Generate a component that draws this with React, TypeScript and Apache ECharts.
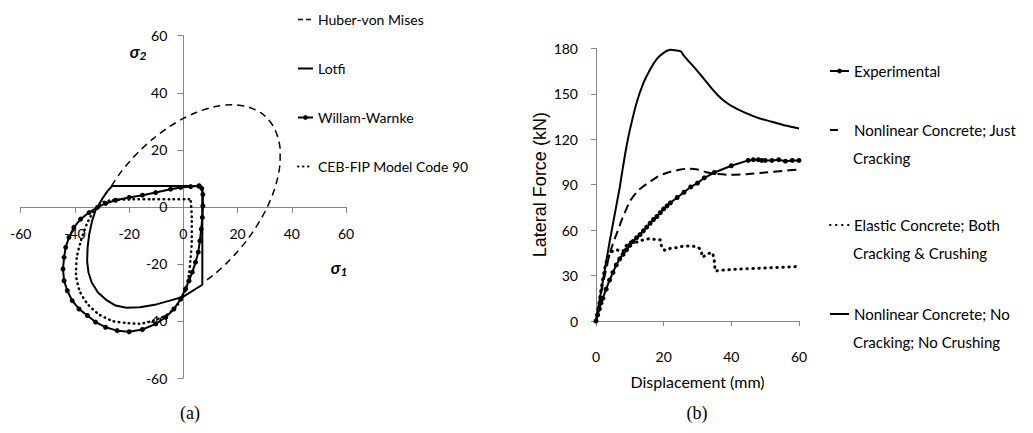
import React, { useEffect, useRef } from "react";
import * as echarts from "echarts";

// ---------- Panel (a): biaxial failure envelopes ----------
const stressTicks = [-60, -40, -20, 0, 20, 40, 60];

const huberVonMises: [number, number][] = [
  [-26.5, 7.3], [-23.2, 12], [-19.7, 16], [-15.7, 20], [-11, 24], [-5.3, 28], [0, 31],
  [4.5, 33], [11, 35], [17.9, 35.8], [24, 35], [28.5, 33], [31, 31], [33.3, 28], [35, 24],
  [35.7, 20], [35.7, 16], [35.2, 12], [34.2, 8], [32.8, 4], [31, 0], [28.8, -4], [26.2, -8],
  [23.2, -12], [19.7, -16], [15.7, -20], [11, -24], [7, -26.8],
];

const lotfi: [number, number][] = [
  [-26.3, 7.3], [6, 7.3], [7, 6.5], [7, -27.3], [0, -31.5], [-4, -32.6], [-10, -34.2],
  [-16, -35.2], [-21, -35.4], [-25, -34.6], [-28.5, -32.6], [-31.5, -30], [-33.8, -26.5],
  [-35, -23], [-35.5, -19], [-35.3, -14], [-34.7, -9.5], [-33.7, -5], [-32.3, -1],
  [-30, 2.7], [-28, 5.5], [-26.3, 7.3],
];

const willamWarnke: [number, number][] = [
  [5.8, 7.3], [2.7, 7.1], [-1, 6.8], [-4.7, 6.2], [-10.2, 5], [-15.1, 4.1], [-20, 3.3],
  [-25, 2.3], [-28.7, 1.2], [-31.7, -0.2], [-34.8, -2], [-37.9, -4.3], [-40.4, -7.2],
  [-42.2, -10.7], [-43.4, -14.2], [-44, -17.7], [-44.4, -21.8], [-44, -25.9], [-42.8, -29.4],
  [-41, -32.9], [-38.5, -35.8], [-35.4, -38.1], [-32.4, -40.4], [-28.7, -42.2], [-24.4, -43.4],
  [-20, -43.8], [-15.1, -43], [-10.2, -41], [-6.5, -38.7], [-3.5, -35.8], [-1, -32.3],
  [0.8, -28.8], [2.1, -25.9], [3.3, -22.9], [4.5, -19.4], [5.5, -15.9], [6.1, -11.9],
  [6.6, -7.8], [7, -3.7], [7.2, 0.3], [7.2, 4.4], [6.8, 6.5], [5.8, 7.3],
];

const cebFip: [number, number][] = [
  [2.1, 2.7], [-5, 2.7], [-12, 2.7], [-20, 2.6], [-26, 2.4], [-29.9, 1.5], [-33, -1.4],
  [-35.6, -6], [-37.8, -11.9], [-39.3, -17.7], [-39.6, -23.5], [-38.3, -29.4], [-35.4, -34],
  [-31.3, -37.6], [-26.2, -40], [-21.3, -40.7], [-16.4, -41], [-11.4, -40], [-6.5, -38.1],
  [-2.8, -35.2], [-0.4, -31.7], [1.1, -28.2], [2.1, -23.5], [2.7, -17.7], [3.1, -12],
  [3.1, -3.7], [2.7, 2.1], [2.1, 2.7],
];

// ---------- Panel (b): lateral force vs displacement ----------
const displacementTicks = [0, 20, 40, 60];
const forceTicks = [0, 30, 60, 90, 120, 150, 180];

const experimental: [number, number][] = [
  [0, 0], [0.5, 4], [1, 8], [1.5, 12], [2, 15], [3, 21], [4, 27], [5, 32], [6, 37], [7, 41],
  [8, 44], [9, 47], [10, 50], [11, 52.5], [12, 55], [13, 57], [14, 59.5], [15, 62], [16, 64.5],
  [17, 67], [18, 69], [19, 71.5], [20, 74], [21, 76], [22, 78], [24, 81.5], [26, 85],
  [28, 88.5], [30, 91], [32, 94.5], [35, 98], [40, 102.5], [45, 106], [46.5, 106.5],
  [48, 106.5], [49, 106], [50, 106], [52, 106], [54, 106.5], [56, 105.5], [58, 106], [60, 106],
];

const nonlinearJustCracking: [number, number][] = [
  [0, 0], [1, 12], [2, 24], [3, 34], [4, 44], [5, 51], [6, 57], [7, 63], [8, 69], [9, 74],
  [10, 79], [12, 85], [14, 89], [16, 92], [18, 95], [20, 97], [22, 98.5], [24, 99.5],
  [27, 100.5], [30, 100], [33, 98], [36, 97], [40, 96.5], [45, 97], [50, 98], [55, 99], [60, 100],
];

const elasticBothCracking: [number, number][] = [
  [0, 0], [0.5, 7], [1, 14], [1.5, 21], [2, 28], [2.5, 34], [3, 39], [4, 44], [5, 46.5],
  [6, 47], [7, 46.5], [8, 46], [9, 50], [10, 52], [11, 52.5], [12, 52], [13, 53], [14, 53.5],
  [15, 54], [16, 54.5], [17, 54], [18, 54], [19, 53.5], [19.5, 48], [20.5, 46.5], [22, 48],
  [24, 48.5], [26, 49.5], [28, 49.5], [30, 49], [31, 47], [31.5, 42], [33, 44.5], [34.5, 45],
  [35, 39], [35.2, 33], [37, 33.5], [40, 34], [45, 34.5], [50, 35], [55, 35.5], [60, 36],
];

const nonlinearNoCracking: [number, number][] = [
  [0, 0], [1, 13], [2, 26], [3, 39], [4, 52], [5, 64], [6, 76], [7, 88], [8, 102], [9, 115],
  [10, 126], [12, 144], [14, 157], [16, 166], [18, 173], [20, 177], [22, 179], [24, 178.5],
  [25, 178], [26, 175], [28, 170], [30, 165], [32, 159.5], [34, 154], [36, 149], [38, 145],
  [40, 142], [44, 137.5], [48, 134], [52, 131.5], [56, 129], [60, 127],
];

const FONT = "Lato, 'Noto Sans', sans-serif";
const AXIS_GREY = "#868686";
const BLACK = "#000";
const NONE = "rgba(0,0,0,0)";

// left panel plot box (pixels)
const A_LEFT = 20.7;
const A_TOP = 35.7;
const A_W = 325.3;
const A_H = 342.3;

const RIGHT_LEGEND_SIZE = 15;

export default function App() {
  const ref = useRef<HTMLDivElement>(null);

  useEffect(() => {
    document.body.style.margin = "0";
    if (!ref.current) return;
    const chart = echarts.init(ref.current, undefined, { renderer: "svg" });

    const tickStyle = { lineStyle: { color: AXIS_GREY, width: 1 } };
    const labelCommon = { color: BLACK, fontFamily: FONT, fontSize: 14 };

    const legendCommon = {
      orient: "vertical" as const,
      padding: 0,
      itemHeight: 6,
      textStyle: { color: BLACK, fontFamily: FONT, fontSize: 14 },
      selectedMode: false,
    };
    const rightLegend = (center: number) => ({
      ...legendCommon,
      left: 829,
      top: center - RIGHT_LEGEND_SIZE / 2,
      itemWidth: 19,
      textStyle: { color: BLACK, fontFamily: FONT, fontSize: RIGHT_LEGEND_SIZE },
    });

    const lineText = (text: string, y: number) => ({
      type: "text",
      x: 853,
      y,
      style: { text, fill: BLACK, fontFamily: FONT, fontSize: RIGHT_LEGEND_SIZE, verticalAlign: "middle" },
    });

    const sigma = (sub: string, x: number, y: number) => ({
      type: "text",
      x,
      y,
      style: {
        text: `{s|σ}{b|${sub}}`,
        align: "center",
        verticalAlign: "middle",
        rich: {
          s: { fontFamily: FONT, fontSize: 17, fontWeight: "bold", fontStyle: "italic", fill: BLACK },
          b: { fontFamily: FONT, fontSize: 12, fontWeight: "bold", fontStyle: "italic", fill: BLACK, padding: [8, 0, 0, 0] },
        },
      },
    });

    const option: any = {
      animation: false,
      backgroundColor: "#fff",
      grid: [
        { left: A_LEFT, top: A_TOP, width: A_W, height: A_H, outerBoundsMode: "none", containLabel: false },
        { left: 596, top: 48.3, width: 203, height: 272.7, outerBoundsMode: "none", containLabel: false },
      ],
      xAxis: [
        {
          type: "value",
          gridIndex: 0,
          position: "bottom",
          offset: -A_H / 2,
          min: stressTicks[0],
          max: stressTicks[stressTicks.length - 1],
          interval: 20,
          axisLine: { show: true, onZero: false, ...tickStyle },
          axisTick: { show: true, length: 6, ...tickStyle },
          splitLine: { show: false },
          axisLabel: { ...labelCommon, margin: 20 },
        },
        {
          type: "value",
          gridIndex: 1,
          min: displacementTicks[0],
          max: displacementTicks[displacementTicks.length - 1],
          interval: 20,
          axisLine: { show: true, onZero: false, ...tickStyle },
          axisTick: { show: true, length: 5, ...tickStyle },
          splitLine: { show: false },
          axisLabel: { ...labelCommon, margin: 28 },
          name: "Displacement (mm)",
          nameLocation: "middle",
          nameGap: 52,
          nameTextStyle: { color: BLACK, fontFamily: FONT, fontSize: 16 },
        },
      ],
      yAxis: [
        {
          type: "value",
          gridIndex: 0,
          position: "left",
          offset: -A_W / 2,
          min: stressTicks[0],
          max: stressTicks[stressTicks.length - 1],
          interval: 20,
          axisLine: { show: true, onZero: false, ...tickStyle },
          axisTick: { show: true, length: 6, ...tickStyle },
          splitLine: { show: false },
          axisLabel: { ...labelCommon, margin: 16 },
        },
        {
          type: "value",
          gridIndex: 1,
          min: forceTicks[0],
          max: forceTicks[forceTicks.length - 1],
          interval: 30,
          axisLine: { show: true, onZero: false, ...tickStyle },
          axisTick: { show: true, length: 5, ...tickStyle },
          splitLine: { show: false },
          axisLabel: { ...labelCommon, margin: 18 },
          name: "Lateral Force (kN)",
          nameLocation: "middle",
          nameGap: 47,
          nameTextStyle: { color: BLACK, fontFamily: "'Liberation Sans', Arial, sans-serif", fontSize: 18 },
        },
      ],
      legend: [
        {
          ...legendCommon,
          left: 297,
          top: 12.5,
          itemWidth: 15,
          itemGap: 35,
          data: [
            { name: "Huber-von Mises", lineStyle: { type: [5, 3], width: 1.5 } },
            "Lotfi",
            "Willam-Warnke",
            "CEB-FIP Model Code 90",
          ],
        },
        { ...rightLegend(71), data: ["Experimental"] },
        {
          ...rightLegend(130),
          data: [{ name: "Nonlinear Concrete; Just", lineStyle: { type: [8, 30] } }],
        },
        { ...rightLegend(225), data: ["Elastic Concrete; Both"] },
        { ...rightLegend(314), data: ["Nonlinear Concrete; No"] },
      ],
      graphic: [
        lineText("Cracking", 158),
        lineText("Cracking & Crushing", 253),
        lineText("Cracking; No Crushing", 342),
        sigma("1", 339, 267),
        sigma("2", 138, 51),
        {
          type: "text",
          x: 190,
          y: 413,
          style: { text: "(a)", fill: BLACK, fontFamily: "'Liberation Serif', serif", fontSize: 18, align: "center", verticalAlign: "middle" },
        },
        {
          type: "text",
          x: 697,
          y: 413,
          style: { text: "(b)", fill: BLACK, fontFamily: "'Liberation Serif', serif", fontSize: 18, align: "center", verticalAlign: "middle" },
        },
      ],
      series: [
        {
          name: "Huber-von Mises",
          type: "line",
          xAxisIndex: 0,
          yAxisIndex: 0,
          data: huberVonMises,
          smooth: 0.3,
          symbol: "none",
          itemStyle: { color: NONE },
          lineStyle: { color: BLACK, width: 1.5, type: [7, 5] },
        },
        {
          name: "Lotfi",
          type: "line",
          xAxisIndex: 0,
          yAxisIndex: 0,
          data: lotfi,
          symbol: "none",
          itemStyle: { color: NONE },
          lineStyle: { color: BLACK, width: 2 },
        },
        {
          name: "Willam-Warnke",
          type: "line",
          xAxisIndex: 0,
          yAxisIndex: 0,
          data: willamWarnke,
          symbol: "circle",
          symbolSize: 5,
          itemStyle: { color: BLACK },
          lineStyle: { color: BLACK, width: 2 },
        },
        {
          name: "CEB-FIP Model Code 90",
          type: "line",
          xAxisIndex: 0,
          yAxisIndex: 0,
          data: cebFip,
          smooth: 0.2,
          symbol: "none",
          itemStyle: { color: NONE },
          lineStyle: { color: BLACK, width: 2.5, type: [0.5, 4.5], cap: "round" },
        },
        {
          name: "Experimental",
          type: "line",
          xAxisIndex: 1,
          yAxisIndex: 1,
          data: experimental,
          symbol: "circle",
          symbolSize: 5,
          itemStyle: { color: BLACK },
          lineStyle: { color: BLACK, width: 2 },
        },
        {
          name: "Nonlinear Concrete; Just",
          type: "line",
          xAxisIndex: 1,
          yAxisIndex: 1,
          data: nonlinearJustCracking,
          smooth: 0.3,
          symbol: "none",
          itemStyle: { color: NONE },
          lineStyle: { color: BLACK, width: 2, type: [9, 5] },
        },
        {
          name: "Elastic Concrete; Both",
          type: "line",
          xAxisIndex: 1,
          yAxisIndex: 1,
          data: elasticBothCracking,
          symbol: "none",
          itemStyle: { color: NONE },
          lineStyle: { color: BLACK, width: 3, type: [0.5, 5.5], cap: "round" },
        },
        {
          name: "Nonlinear Concrete; No",
          type: "line",
          xAxisIndex: 1,
          yAxisIndex: 1,
          data: nonlinearNoCracking,
          smooth: 0.3,
          symbol: "none",
          itemStyle: { color: NONE },
          lineStyle: { color: BLACK, width: 2 },
        },
      ],
    };

    chart.setOption(option);
    return () => chart.dispose();
  }, []);

  return <div ref={ref} style={{ width: 1033, height: 433 }} />;
}
